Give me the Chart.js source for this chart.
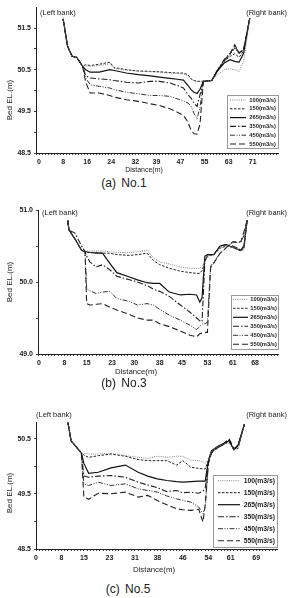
<!DOCTYPE html>
<html>
<head>
<meta charset="utf-8">
<script src="https://cdn.jsdelivr.net/npm/chart.js@4.4.0/dist/chart.umd.min.js"></script>
<style>
body{margin:0;background:#fff;width:288px;height:598px;position:relative;overflow:hidden;font-family:"Liberation Sans",Arial,sans-serif}
canvas{position:absolute;left:0}
.cap{position:absolute;width:100px;text-align:center;font-size:12px;color:#222;word-spacing:2px}
</style>
</head>
<body>
<canvas id="no1" width="288" height="176" style="top:0px"></canvas>
<canvas id="no3" width="288" height="182" style="top:195px"></canvas>
<canvas id="no5" width="288" height="175" style="top:405px"></canvas>
<div class="cap" style="left:74px;top:176px">(a) No.1</div>
<div class="cap" style="left:74px;top:376px">(b) No.3</div>
<div class="cap" style="left:78px;top:582px">(c) No.5</div>
<script>
const SERIES_LABELS = ['100(m3/s)', '150(m3/s)', '265(m3/s)', '350(m3/s)', '450(m3/s)', '550(m3/s)'];

// No.1
const DIST_1 = [8, 9.5, 11, 12.5, 14.5, 15.5, 17, 20, 23.5, 25, 29, 33, 37, 40, 43.5, 46, 48, 49.5, 50.5, 51.5, 52.5, 53.5, 54.6, 57.4, 59, 61.5, 63.5, 65, 66.5, 68, 70];
const NO1_Q100 = [51.72, 51.06, 50.82, 50.80, 50.58, 50.6, 50.58, 50.6, 50.64, 50.53, 50.49, 50.46, 50.45, 50.44, 50.42, 50.41, 50.4, 50.36, 50.27, 50.23, 50.22, 50.22, 50.22, 50.24, 50.36, 50.5, 50.52, 50.5, 50.46, 50.7, 51.73];
const NO1_Q150 = [51.72, 51.06, 50.82, 50.80, 50.58, 50.62, 50.6, 50.63, 50.68, 50.55, 50.5, 50.47, 50.46, 50.45, 50.43, 50.42, 50.42, 50.38, 50.28, 50.24, 50.22, 50.22, 50.22, 50.24, 50.42, 50.7, 50.82, 50.88, 50.8, 50.95, 51.73];
const NO1_Q265 = [51.72, 51.06, 50.82, 50.80, 50.58, 50.5, 50.44, 50.44, 50.5, 50.48, 50.42, 50.38, 50.35, 50.32, 50.29, 50.27, 50.25, 50.12, 50.02, 49.96, 49.93, 50.03, 50.22, 50.24, 50.44, 50.66, 50.74, 50.7, 50.68, 50.9, 51.73];
const NO1_Q350 = [51.72, 51.06, 50.82, 50.80, 50.58, 50.36, 50.3, 50.28, 50.26, 50.24, 50.2, 50.18, 50.22, 50.22, 50.18, 50.12, 50.06, 49.9, 49.82, 49.7, 49.62, 49.9, 50.22, 50.24, 50.46, 50.74, 50.9, 51.06, 50.9, 50.98, 51.73];
const NO1_Q450 = [51.72, 51.06, 50.82, 50.80, 50.58, 50.3, 50.14, 50.1, 50.06, 50.02, 49.96, 49.92, 49.88, 49.88, 49.86, 49.8, 49.75, 49.7, 49.62, 49.45, 49.32, 49.6, 50.22, 50.24, 50.46, 50.72, 50.86, 51.02, 50.88, 50.98, 51.73];
const NO1_Q550 = [51.72, 51.06, 50.82, 50.80, 50.58, 50.2, 49.94, 49.94, 49.88, 49.84, 49.78, 49.74, 49.68, 49.64, 49.56, 49.48, 49.4, 49.24, 49.05, 48.96, 48.95, 49.2, 50.22, 50.24, 50.44, 50.72, 50.88, 51.1, 50.9, 51.0, 51.73];
const NO1_X_LABELS = [0, 8, 16, 24, 32, 39, 47, 55, 63, 71];
const NO1_Y_TICKS = [48.5, 49, 49.5, 50, 50.5, 51, 51.5];
const NO1_Y_LABELS = [48.5, 49.5, 50.5, 51.5];

// No.3
const DIST_3 = [9, 9.5, 11.3, 13.4, 14.5, 15, 16, 18, 20, 22.3, 24.5, 28.5, 31, 34, 36, 38, 41, 44.5, 47.5, 49.6, 50.6, 51.3, 52.2, 53, 54, 55, 57, 59, 61, 63.5, 64.5, 65.5];
const NO3_Q100 = [50.86, 50.72, 50.6, 50.44, 50.43, 50.43, 50.43, 50.43, 50.43, 50.42, 50.41, 50.41, 50.42, 50.44, 50.34, 50.28, 50.25, 50.21, 50.19, 50.19, 50.19, 50.22, 50.28, 50.36, 50.37, 50.38, 50.47, 50.5, 50.48, 50.43, 50.46, 50.86];
const NO3_Q150 = [50.86, 50.72, 50.6, 50.44, 50.42, 50.41, 50.41, 50.41, 50.4, 50.4, 50.38, 50.37, 50.38, 50.4, 50.3, 50.24, 50.19, 50.15, 50.13, 50.12, 50.12, 50.16, 50.28, 50.36, 50.37, 50.38, 50.47, 50.5, 50.48, 50.43, 50.46, 50.86];
const NO3_Q265 = [50.86, 50.72, 50.6, 50.44, 50.42, 50.42, 50.41, 50.4, 50.4, 50.26, 50.13, 50.07, 50.03, 49.99, 49.98, 49.98, 49.86, 49.82, 49.83, 49.82, 49.72, 49.78, 50.36, 50.38, 50.38, 50.38, 50.5, 50.52, 50.48, 50.44, 50.5, 50.86];
const NO3_Q350 = [50.86, 50.72, 50.68, 50.5, 50.42, 50.36, 50.28, 50.21, 50.24, 50.17, 50.08, 50.03, 50.0, 49.95, 49.9, 49.87, 49.8, 49.68, 49.58, 49.5, 49.46, 49.45, 50.3, 50.36, 50.38, 50.38, 50.5, 50.52, 50.5, 50.45, 50.5, 50.86];
const NO3_Q450 = [50.86, 50.72, 50.6, 50.44, 50.42, 49.91, 49.88, 49.84, 49.86, 49.87, 49.77, 49.73, 49.68, 49.7, 49.68, 49.62, 49.54, 49.47, 49.4, 49.34, 49.38, 49.42, 49.42, 49.44, 50.22, 50.28, 50.4, 50.48, 50.55, 50.55, 50.65, 50.86];
const NO3_Q550 = [50.86, 50.72, 50.6, 50.44, 50.42, 49.7, 49.68, 49.69, 49.7, 49.65, 49.61, 49.55, 49.5, 49.47, 49.47, 49.42, 49.38, 49.32, 49.26, 49.24, 49.28, 49.29, 49.3, 49.3, 50.2, 50.26, 50.4, 50.48, 50.56, 50.56, 50.7, 50.86];
const NO3_X_LABELS = [0, 8, 15, 23, 30, 38, 45, 53, 61, 68];
const NO3_Y_TICKS = [49, 49.5, 50, 50.5, 51];
const NO3_Y_LABELS = [49, 50, 51];

// No.5
const DIST_5 = [10, 11, 14.2, 15, 16.5, 19.5, 23.5, 28, 32, 35, 38, 41, 44, 46, 48.5, 51, 52.3, 53, 54, 55, 57, 59, 60.5, 62, 63.3, 65.3];
const NO5_Q100 = [50.79, 50.46, 50.24, 50.23, 50.22, 50.22, 50.23, 50.19, 50.16, 50.14, 50.18, 50.16, 50.18, 50.18, 50.11, 50.1, 50.08, 50.05, 50.12, 50.28, 50.36, 50.4, 50.42, 50.3, 50.34, 50.76];
const NO5_Q150 = [50.79, 50.46, 50.24, 50.2, 50.16, 50.19, 50.22, 50.18, 50.12, 50.1, 50.1, 50.1, 50.02, 50.1, 49.98, 49.96, 49.95, 49.95, 50.1, 50.28, 50.34, 50.4, 50.44, 50.3, 50.32, 50.76];
const NO5_Q265 = [50.79, 50.46, 50.24, 50.05, 49.87, 49.89, 49.97, 50.02, 49.89, 49.82, 49.77, 49.74, 49.72, 49.71, 49.72, 49.73, 49.73, 49.73, 50.1, 50.28, 50.36, 50.42, 50.46, 50.3, 50.38, 50.76];
const NO5_Q350 = [50.79, 50.46, 50.24, 49.82, 49.8, 49.82, 49.83, 49.8, 49.71, 49.66, 49.61, 49.54, 49.56, 49.52, 49.53, 49.51, 49.55, 49.6, 50.08, 50.26, 50.34, 50.4, 50.46, 50.3, 50.38, 50.76];
const NO5_Q450 = [50.79, 50.46, 50.24, 49.68, 49.65, 49.71, 49.65, 49.68, 49.59, 49.56, 49.53, 49.46, 49.41, 49.38, 49.35, 49.26, 49.14, 49.25, 50.06, 50.24, 50.34, 50.4, 50.48, 50.3, 50.36, 50.76];
const NO5_Q550 = [50.79, 50.46, 50.24, 49.44, 49.4, 49.51, 49.5, 49.53, 49.44, 49.47, 49.38, 49.3, 49.23, 49.21, 49.2, 49.22, 48.99, 49.3, 50.04, 50.24, 50.34, 50.42, 50.5, 50.32, 50.36, 50.76];
const NO5_X_LABELS = [0, 8, 15, 23, 31, 38, 46, 54, 61, 69];
const NO5_Y_TICKS = [48.5, 49, 49.5, 50, 50.5];
const NO5_Y_LABELS = [48.5, 49.5, 50.5];

// line looks, same order as SERIES_LABELS
const LINE_STYLES = [
    {color: '#777', width: 0.9, dash: [1, 1.2]},
    {color: '#222', width: 1, dash: [2.5, 1.5]},
    {color: '#111', width: 1.2, dash: []},
    {color: '#222', width: 1.1, dash: [6, 2, 1.5, 2]},
    {color: '#333', width: 1, dash: [5, 1.5, 1, 1.5, 1, 1.5]},
    {color: '#222', width: 1.1, dash: [6, 3]}
];

const TICK_FONT = {family: '"Liberation Sans", Arial, sans-serif', size: 7, weight: 'bold'};

function legend_plugin(box){
    return {
        id: 'legend_box',
        afterDraw(chart){
            const ctx = chart.ctx;
            ctx.save();
            ctx.fillStyle = '#fff';
            ctx.fillRect(box.x, box.y, box.w, box.h);
            ctx.strokeStyle = '#999';
            ctx.lineWidth = 1;
            ctx.strokeRect(box.x + 0.5, box.y + 0.5, box.w, box.h);
            chart.data.datasets.forEach((ds, i) => {
                let y = box.row0 + i * box.step;
                ctx.beginPath();
                ctx.setLineDash(ds.borderDash);
                ctx.strokeStyle = ds.borderColor;
                ctx.lineWidth = ds.borderWidth;
                ctx.moveTo(box.sx0, y);
                ctx.lineTo(box.sx1, y);
                ctx.stroke();
                ctx.setLineDash([]);
                ctx.fillStyle = '#222';
                ctx.font = 'bold ' + box.font + 'px "Liberation Sans", Arial, sans-serif';
                ctx.textAlign = 'right';
                ctx.textBaseline = 'middle';
                ctx.fillText(ds.label, box.tx, y);
            });
            ctx.restore();
        }
    };
}

function texts_plugin(items){
    return {
        id: 'chart_texts',
        afterDraw(chart){
            const ctx = chart.ctx;
            items.forEach(t => {
                ctx.save();
                ctx.fillStyle = '#222';
                ctx.font = t.font;
                ctx.textAlign = t.align;
                ctx.textBaseline = 'middle';
                ctx.translate(t.x, t.y);
                if (t.rot) ctx.rotate(t.rot);
                ctx.fillText(t.text, 0, 0);
                ctx.restore();
            });
        }
    };
}

function make_chart(id, cfg){
    const datasets = cfg.series.map((vals, i) => ({
        label: SERIES_LABELS[i],
        data: cfg.dist.map((x, j) => ({x: x, y: vals[j]})),
        borderColor: LINE_STYLES[i].color,
        borderWidth: LINE_STYLES[i].width,
        borderDash: LINE_STYLES[i].dash,
        pointRadius: 0,
        tension: 0,
        fill: false
    }));
    const texts = [
        {text: '(Left bank)', x: cfg.left_bank[0], y: cfg.left_bank[1], align: 'left', font: '7.5px "Liberation Sans", Arial, sans-serif'},
        {text: '(Right bank)', x: 287, y: cfg.left_bank[1], align: 'right', font: '7.5px "Liberation Sans", Arial, sans-serif'},
        {text: 'Bed EL.(m)', x: 10, y: cfg.ytitle_y, align: 'center', rot: -Math.PI / 2, font: '8px "Liberation Sans", Arial, sans-serif'},
        {text: 'Distance(m)', x: cfg.xtitle[0], y: cfg.xtitle[1], align: 'center', font: cfg.xtitle[2] + 'px "Liberation Sans", Arial, sans-serif'}
    ];
    new Chart(document.getElementById(id), {
        type: 'line',
        data: {datasets: datasets},
        options: {
            responsive: false,
            animation: false,
            layout: {padding: {top: cfg.top, right: cfg.right, left: 0, bottom: 0}},
            plugins: {legend: {display: false}, tooltip: {enabled: false}},
            scales: {
                x: {
                    type: 'linear',
                    min: cfg.xmin,
                    max: cfg.xmax,
                    afterBuildTicks: scale => {
                        let ticks = [];
                        for (let v = Math.ceil(cfg.xmin); v <= cfg.xmax; v++) ticks.push({value: v});
                        scale.ticks = ticks;
                    },
                    afterFit: scale => { scale.height = cfg.xh; },
                    ticks: {
                        autoSkip: false, maxRotation: 0, minRotation: 0, padding: 3,
                        color: '#222', font: TICK_FONT,
                        callback: v => cfg.xlabels.includes(v) ? String(v) : ''
                    },
                    grid: {drawOnChartArea: false, drawTicks: true, tickLength: 2, color: '#444'},
                    border: {display: true, color: '#222', width: 1}
                },
                y: {
                    min: cfg.ymin,
                    max: cfg.ymax,
                    afterBuildTicks: scale => { scale.ticks = cfg.yticks.map(v => ({value: v})); },
                    afterFit: scale => { scale.width = cfg.yw; },
                    ticks: {
                        padding: 3, color: '#222', font: TICK_FONT,
                        callback: v => cfg.ylabels.includes(v) ? v.toFixed(1) : ''
                    },
                    grid: {drawOnChartArea: false, drawTicks: true, tickLength: 2, color: '#444'},
                    border: {display: true, color: '#222', width: 1}
                }
            }
        },
        plugins: [legend_plugin(cfg.legend), texts_plugin(texts)]
    });
}

make_chart('no1', {
    dist: DIST_1,
    series: [NO1_Q100, NO1_Q150, NO1_Q265, NO1_Q350, NO1_Q450, NO1_Q550],
    xmin: -1, xmax: 79.4, ymin: 48.5, ymax: 52.0,
    xlabels: NO1_X_LABELS, yticks: NO1_Y_TICKS, ylabels: NO1_Y_LABELS,
    top: 7, right: 10, xh: 23, yw: 36,
    left_bank: [40, 13], ytitle_y: 100, xtitle: [144, 170, 7],
    legend: {x: 227, y: 95, w: 51, h: 53, row0: 100, step: 8.8, sx0: 230, sx1: 246, tx: 276, font: 5.8}
});

make_chart('no3', {
    dist: DIST_3,
    series: [NO3_Q100, NO3_Q150, NO3_Q265, NO3_Q350, NO3_Q450, NO3_Q550],
    xmin: -0.3, xmax: 75.2, ymin: 49.0, ymax: 51.0,
    xlabels: NO3_X_LABELS, yticks: NO3_Y_TICKS, ylabels: NO3_Y_LABELS,
    top: 15, right: 10, xh: 23, yw: 38,
    left_bank: [42, 18], ytitle_y: 87, xtitle: [136, 177, 7.8],
    legend: {x: 231, y: 100, w: 47, h: 54, row0: 104.3, step: 9, sx0: 233, sx1: 248, tx: 277, font: 5.8}
});

make_chart('no5', {
    dist: DIST_5,
    series: [NO5_Q100, NO5_Q150, NO5_Q265, NO5_Q350, NO5_Q450, NO5_Q550],
    xmin: 0, xmax: 75.5, ymin: 48.5, ymax: 50.8,
    xlabels: NO5_X_LABELS, yticks: NO5_Y_TICKS, ylabels: NO5_Y_LABELS,
    top: 17, right: 11, xh: 31, yw: 36,
    left_bank: [36, 10], ytitle_y: 88, xtitle: [154, 165, 7.8],
    legend: {x: 213, y: 70, w: 64, h: 72, row0: 75.7, step: 12, sx0: 218, sx1: 240, tx: 275, font: 6.8}
});
</script>
</body>
</html>
